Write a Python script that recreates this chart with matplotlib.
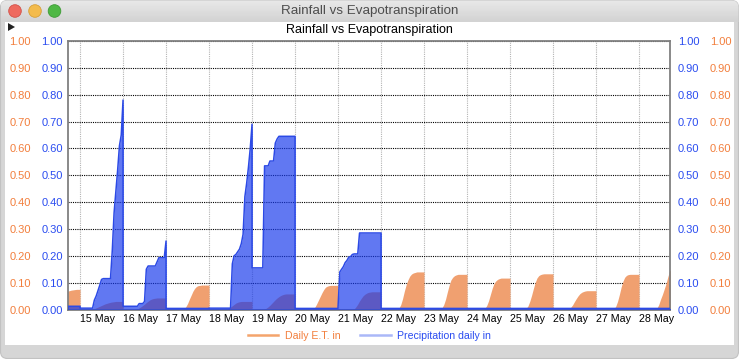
import matplotlib

matplotlib.use("Agg")
import matplotlib.pyplot as plt
import numpy as np
from matplotlib.colors import LinearSegmentedColormap
from matplotlib.lines import Line2D
from matplotlib.patches import Circle, FancyBboxPatch, Polygon, Rectangle

plt.rcParams["font.family"] = ["Liberation Sans", "DejaVu Sans"]

# x axis: days, ticks at midnight of each day
day_labels = ["15 May", "16 May", "17 May", "18 May", "19 May", "20 May", "21 May",
              "22 May", "23 May", "24 May", "25 May", "26 May", "27 May", "28 May"]
y_ticks = [0.0, 0.1, 0.2, 0.3, 0.4, 0.5, 0.6, 0.7, 0.8, 0.9, 1.0]

# tail of 14 May (hours 17..24)
pre_hours = [17, 18, 19, 20, 21, 22, 23, 24]
et_may14 = [0.068, 0.070, 0.072, 0.073, 0.074, 0.075, 0.075, 0.075]
rain_may14 = [0.012, 0.012, 0.012, 0.012, 0.012, 0.012, 0.012, 0.012]

# daily cumulative E.T. (in), one reading per hour 0..24
et_hourly = [
    [0, 0, 0, 0, 0, 0, 0, 0.001, 0.003, 0.006, 0.009, 0.012, 0.015, 0.018, 0.021, 0.023, 0.025, 0.027, 0.028, 0.029, 0.03, 0.03, 0.03, 0.03, 0.03],
    [0, 0, 0, 0, 0, 0, 0, 0, 0.002, 0.006, 0.01, 0.015, 0.02, 0.026, 0.031, 0.036, 0.039, 0.041, 0.042, 0.043, 0.043, 0.043, 0.043, 0.043, 0.043],
    [0, 0, 0, 0, 0, 0, 0, 0, 0, 0, 0.003, 0.01, 0.022, 0.038, 0.053, 0.068, 0.079, 0.086, 0.089, 0.09, 0.091, 0.091, 0.091, 0.091, 0.091],
    [0, 0, 0, 0, 0, 0, 0, 0, 0, 0, 0.002, 0.005, 0.009, 0.014, 0.019, 0.024, 0.027, 0.029, 0.03, 0.03, 0.03, 0.03, 0.03, 0.03, 0.03],
    [0, 0, 0, 0, 0, 0, 0, 0.002, 0.005, 0.01, 0.016, 0.023, 0.03, 0.037, 0.043, 0.048, 0.052, 0.055, 0.057, 0.058, 0.058, 0.058, 0.058, 0.058, 0.058],
    [0, 0, 0, 0, 0, 0, 0, 0, 0, 0, 0.002, 0.008, 0.02, 0.034, 0.048, 0.062, 0.074, 0.083, 0.087, 0.089, 0.09, 0.09, 0.09, 0.09, 0.09],
    [0, 0, 0, 0, 0, 0, 0, 0, 0, 0.002, 0.01, 0.02, 0.032, 0.042, 0.051, 0.057, 0.061, 0.064, 0.065, 0.066, 0.066, 0.066, 0.066, 0.066, 0.066],
    [0, 0, 0, 0, 0, 0, 0, 0, 0, 0, 0.005, 0.018, 0.04, 0.068, 0.092, 0.11, 0.124, 0.132, 0.136, 0.138, 0.14, 0.14, 0.14, 0.14, 0.14],
    [0, 0, 0, 0, 0, 0, 0, 0, 0, 0, 0.006, 0.018, 0.038, 0.065, 0.09, 0.11, 0.12, 0.126, 0.129, 0.131, 0.131, 0.131, 0.131, 0.131, 0.131],
    [0, 0, 0, 0, 0, 0, 0, 0, 0, 0, 0.004, 0.015, 0.032, 0.055, 0.078, 0.096, 0.106, 0.112, 0.115, 0.117, 0.117, 0.117, 0.117, 0.117, 0.117],
    [0, 0, 0, 0, 0, 0, 0, 0, 0, 0.004, 0.013, 0.03, 0.052, 0.077, 0.1, 0.117, 0.126, 0.13, 0.132, 0.133, 0.133, 0.133, 0.133, 0.133, 0.133],
    [0, 0, 0, 0, 0, 0, 0, 0, 0, 0.002, 0.009, 0.018, 0.03, 0.041, 0.051, 0.059, 0.064, 0.067, 0.069, 0.07, 0.07, 0.07, 0.07, 0.07, 0.07],
    [0, 0, 0, 0, 0, 0, 0, 0, 0, 0, 0.002, 0.012, 0.03, 0.055, 0.083, 0.105, 0.12, 0.127, 0.13, 0.131, 0.131, 0.131, 0.131, 0.131, 0.131],
    [0, 0, 0, 0, 0, 0, 0, 0, 0, 0, 0.005, 0.018, 0.038, 0.055, 0.075, 0.095, 0.12, 0.143, 0.15],
]

# daily cumulative precipitation (in), one reading per hour 0..24
rain_hourly = [
    [0.005, 0.005, 0.005, 0.005, 0.005, 0.005, 0.005, 0.005, 0.035, 0.05, 0.07, 0.09, 0.112, 0.115, 0.115, 0.115, 0.115, 0.115, 0.22, 0.36, 0.44, 0.52, 0.61, 0.65, 0.78],
    [0.012, 0.012, 0.012, 0.012, 0.012, 0.012, 0.012, 0.012, 0.012, 0.022, 0.022, 0.022, 0.03, 0.15, 0.162, 0.162, 0.162, 0.162, 0.162, 0.178, 0.193, 0.193, 0.193, 0.193, 0.255],
    [0.004, 0.004, 0.004, 0.004, 0.004, 0.004, 0.004, 0.004, 0.004, 0.004, 0.004, 0.004, 0.004, 0.004, 0.004, 0.004, 0.004, 0.004, 0.004, 0.004, 0.004, 0.004, 0.004, 0.004, 0.004],
    [0.005, 0.005, 0.005, 0.005, 0.005, 0.005, 0.005, 0.005, 0.005, 0.005, 0.005, 0.005, 0.005, 0.17, 0.2, 0.205, 0.215, 0.225, 0.245, 0.28, 0.42, 0.47, 0.53, 0.6, 0.69],
    [0.155, 0.155, 0.155, 0.155, 0.155, 0.155, 0.155, 0.535, 0.535, 0.535, 0.553, 0.553, 0.553, 0.62, 0.635, 0.645, 0.645, 0.645, 0.645, 0.645, 0.645, 0.645, 0.645, 0.645, 0.645],
    [0.004, 0.004, 0.004, 0.004, 0.004, 0.004, 0.004, 0.004, 0.004, 0.004, 0.004, 0.004, 0.004, 0.004, 0.004, 0.004, 0.004, 0.004, 0.004, 0.004, 0.004, 0.004, 0.004, 0.004, 0.004],
    [0.01, 0.14, 0.15, 0.16, 0.175, 0.183, 0.195, 0.197, 0.205, 0.207, 0.207, 0.207, 0.285, 0.285, 0.285, 0.285, 0.285, 0.285, 0.285, 0.285, 0.285, 0.285, 0.285, 0.285, 0.285],
    [0.004, 0.004, 0.004, 0.004, 0.004, 0.004, 0.004, 0.004, 0.004, 0.004, 0.004, 0.004, 0.004, 0.004, 0.004, 0.004, 0.004, 0.004, 0.004, 0.004, 0.004, 0.004, 0.004, 0.004, 0.004],
    [0.004, 0.004, 0.004, 0.004, 0.004, 0.004, 0.004, 0.004, 0.004, 0.004, 0.004, 0.004, 0.004, 0.004, 0.004, 0.004, 0.004, 0.004, 0.004, 0.004, 0.004, 0.004, 0.004, 0.004, 0.004],
    [0.004, 0.004, 0.004, 0.004, 0.004, 0.004, 0.004, 0.004, 0.004, 0.004, 0.004, 0.004, 0.004, 0.004, 0.004, 0.004, 0.004, 0.004, 0.004, 0.004, 0.004, 0.004, 0.004, 0.004, 0.004],
    [0.004, 0.004, 0.004, 0.004, 0.004, 0.004, 0.004, 0.004, 0.004, 0.004, 0.004, 0.004, 0.004, 0.004, 0.004, 0.004, 0.004, 0.004, 0.004, 0.004, 0.004, 0.004, 0.004, 0.004, 0.004],
    [0.004, 0.004, 0.004, 0.004, 0.004, 0.004, 0.004, 0.004, 0.004, 0.004, 0.004, 0.004, 0.004, 0.004, 0.004, 0.004, 0.004, 0.004, 0.004, 0.004, 0.004, 0.004, 0.004, 0.004, 0.004],
    [0.004, 0.004, 0.004, 0.004, 0.004, 0.004, 0.004, 0.004, 0.004, 0.004, 0.004, 0.004, 0.004, 0.004, 0.004, 0.004, 0.004, 0.004, 0.004, 0.004, 0.004, 0.004, 0.004, 0.004, 0.004],
    [0.004, 0.004, 0.004, 0.004, 0.004, 0.004, 0.004, 0.004, 0.004, 0.004, 0.004, 0.004, 0.004, 0.004, 0.004, 0.004, 0.004, 0.004, 0.004],
]

ORANGE_FILL = "#f0a070"
BLUE_FILL = "#1638ec"
BLUE_EDGE = "#2c4ae6"
ORANGE_TEXT = "#f27e3c"
BLUE_TEXT = "#2a4cf0"

# flatten into one time axis, in days from 15 May 00:00
xs = [h / 24 - 1 for h in pre_hours]
et = list(et_may14)
rain = list(rain_may14)
for day, (et_day, rain_day) in enumerate(zip(et_hourly, rain_hourly)):
    for hour, (e, r) in enumerate(zip(et_day, rain_day)):
        xs.append(day + hour / 24)
        et.append(e)
        rain.append(r)

fig = plt.figure(figsize=(7.39, 3.59), dpi=100)
fig.patch.set_facecolor("white")

# window chrome, drawn in pixel units
bg = fig.add_axes([0, 0, 1, 1])
bg.axis("off")
frame = FancyBboxPatch((0.5, 0.5), 738, 358, boxstyle="round,pad=0,rounding_size=7",
                       fc="#d6d6d6", ec="#c2c2c2", lw=0.8)
bg.add_patch(frame)
title_bar = bg.imshow(np.linspace(0, 1, 22)[:, None], extent=(0.5, 738.5, 22, 0.5),
                      cmap=LinearSegmentedColormap.from_list("bar", ["#e8e8e8", "#d3d3d3"]),
                      aspect="auto", zorder=1)
title_bar.set_clip_path(frame)
bg.add_patch(Rectangle((5, 22), 729, 323, fc="white", ec="none", zorder=2))
for cx, fc, ec in [(15, "#ee6a5f", "#d2524a"), (35, "#f3bb4c", "#d7a03a"), (54.5, "#4fb845", "#3d9a35")]:
    bg.add_patch(Circle((cx, 11), 6.3, fc=fc, ec=ec, lw=0.6, zorder=3))
bg.add_patch(Polygon([(8, 23), (8, 31), (15, 27)], closed=True, fc="#222222", ec="none", zorder=3))
bg.text(369.5, 11, "Rainfall vs Evapotranspiration", ha="center", va="center",
        fontsize=9.6, color="#4d4d4d", zorder=4)
bg.text(369.5, 30, "Rainfall vs Evapotranspiration", ha="center", va="center",
        fontsize=9, color="black", zorder=4)
bg.set_xlim(0, 739)
bg.set_ylim(359, 0)

# main plot
ax = fig.add_axes([68 / 739, (359 - 309.5) / 359, 602 / 739, 268.5 / 359])
ax.fill_between(xs, 0, et, color=ORANGE_FILL, lw=0, zorder=2)
ax.fill_between(xs, 0, rain, color=BLUE_FILL, alpha=0.68, lw=0, zorder=3)
ax.plot(xs, rain, color=BLUE_EDGE, lw=1.1, zorder=4)
ax.set_xlim(-0.28, 13.72)
ax.set_ylim(0, 1)
ax.set_xticks(range(len(day_labels)))
ax.set_xticklabels(day_labels, ha="left", fontsize=7.7)
ax.set_yticks(y_ticks)
ax.set_yticklabels([f"{v:.2f}" for v in y_ticks])
ax.tick_params(axis="x", length=0, pad=3)
ax.tick_params(axis="y", length=0, pad=3.6, labelsize=8, labelcolor=BLUE_TEXT)
ax.yaxis.grid(True, color="black", lw=0.8, ls=(0, (1, 1)))
ax.xaxis.grid(True, color="#b4b4b4", lw=0.8, ls=(0, (1, 1)))
for spine in ax.spines.values():
    spine.set_color("#808080")
    spine.set_linewidth(1.3)


def side_axis(side, offset, color, pad):
    tw = ax.twinx()
    tw.set_ylim(0, 1)
    tw.set_yticks(y_ticks)
    tw.set_yticklabels([f"{v:.2f}" for v in y_ticks])
    tw.spines[side].set_position(("outward", offset))
    for spine in tw.spines.values():
        spine.set_visible(False)
    tw.tick_params(axis="y", length=0, pad=pad, labelsize=8, labelcolor=color,
                   left=False, right=False,
                   labelleft=(side == "left"), labelright=(side == "right"))
    return tw


side_axis("right", 0, BLUE_TEXT, 5.8)
side_axis("left", 23, ORANGE_TEXT, 3.6)
side_axis("right", 23, ORANGE_TEXT, 5.8)

handles = [Line2D([], [], color="#f4a46c", lw=1.8), Line2D([], [], color="#aab8f8", lw=1.8)]
fig.legend(handles, ["Daily E.T. in", "Precipitation daily in"], loc="center",
           bbox_to_anchor=(0.5, 23 / 359), ncol=2, frameon=False, fontsize=7.6,
           handlelength=2.9, handletextpad=0.6, columnspacing=1.9,
           labelcolor=[ORANGE_TEXT, BLUE_TEXT])

fig.savefig("out.png", dpi=100)
